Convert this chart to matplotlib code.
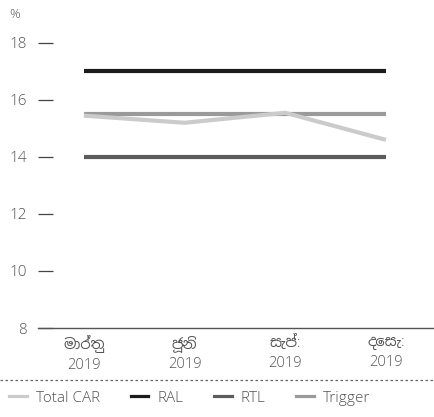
import matplotlib
matplotlib.use("Agg")
import matplotlib.pyplot as plt
from matplotlib.lines import Line2D

plt.rcParams['font.family'] = ['Open Sans', 'Noto Sans Sinhala', 'DejaVu Sans']

# data
months = ["මාර්තු", "ජූනි", "සැප්:", "දෙසැ:"]
years = ["2019", "2019", "2019", "2019"]
total_car = [15.45, 15.2, 15.55, 14.6]
ral = [17.0, 17.0, 17.0, 17.0]
rtl = [14.0, 14.0, 14.0, 14.0]
trigger = [15.5, 15.5, 15.5, 15.5]
y_ticks = [8, 10, 12, 14, 16, 18]

series = [("Total CAR", total_car, "#cbcbcb"),
          ("RAL", ral, "#1c1c1c"),
          ("RTL", rtl, "#5c5c5c"),
          ("Trigger", trigger, "#9a9a9a")]

fig = plt.figure(figsize=(4.34, 4.17), dpi=100)
ax = fig.add_axes([38/434, 1 - 328/417, 1 - 38/434, (328 - 25)/417])

x = list(range(len(months)))
# draw in order so Total CAR sits on top of trigger
for name, vals, col in [series[1], series[2], series[3], series[0]]:
    ax.plot(x, vals, color=col, lw=3, solid_capstyle='butt', label=name)

ax.set_xlim(-0.455, 3.477)
ax.set_ylim(8, 18.63)
ax.set_yticks(y_ticks)
ax.set_yticklabels([str(t) for t in y_ticks])
ax.set_xticks(x)
ax.set_xticklabels([f"{m}\n{y}" for m, y in zip(months, years)], linespacing=1.45)

for s in ["top", "right", "left"]:
    ax.spines[s].set_visible(False)
ax.spines["bottom"].set_color("#555555")
ax.spines["bottom"].set_linewidth(1.0)

ax.tick_params(axis="y", direction="in", length=10.5, width=0.9, color="#444444",
               pad=8, labelsize=11, labelcolor="#555555")
ax.tick_params(axis="x", length=0, pad=5, labelsize=10.5, labelcolor="#555555")
for lab in ax.get_yticklabels() + ax.get_xticklabels():
    lab.set_fontweight("light")

fig.text(9/434, 1 - 15/417, "%", fontsize=9.5, color="#555555", va="center",
         fontweight="light")

# dotted separator
fig.add_artist(Line2D([0, 1], [1 - 380/417, 1 - 380/417], transform=fig.transFigure,
                      color="#666666", lw=0.9, ls=(0, (2, 2))))

handles = [Line2D([], [], color=c, lw=2.3) for _, _, c in series]
fig.legend(handles, [n for n, _, _ in series], loc="center left", ncol=4,
           bbox_to_anchor=(6/434, 1 - 398/417), frameon=False,
           prop={"size": 11, "weight": "light"},
           handlelength=1.16, columnspacing=2.0, handletextpad=0.6,
           borderaxespad=0.0, borderpad=0.2, labelcolor="#555555")

fig.savefig("out.png", dpi=100)
